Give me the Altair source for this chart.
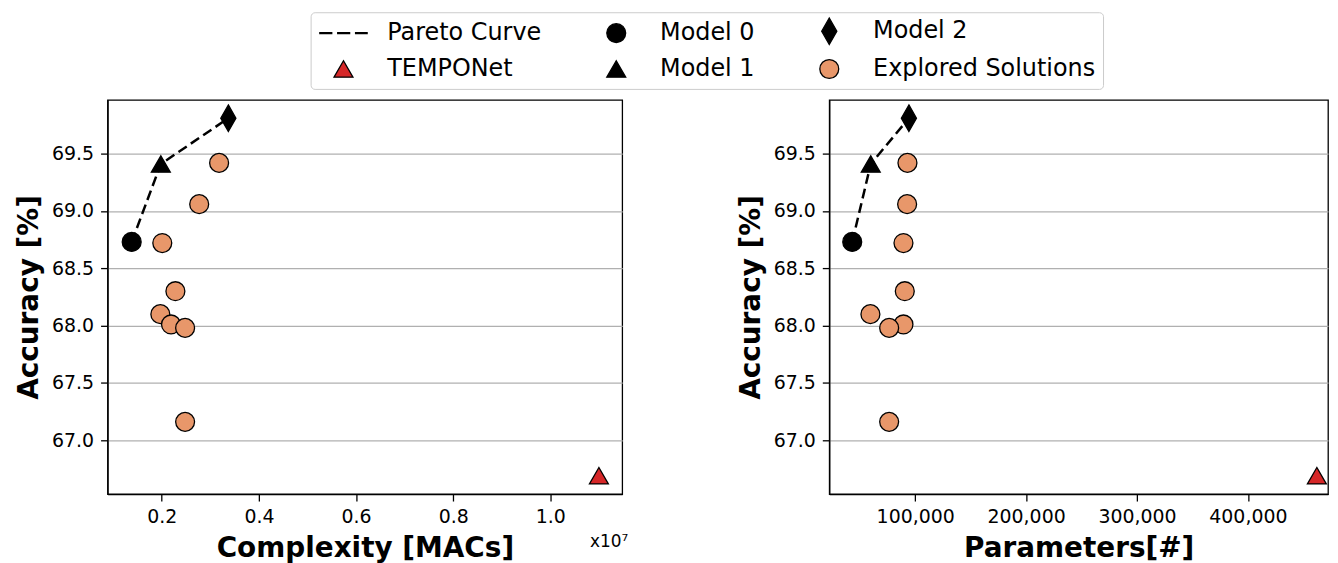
import altair as alt
import pandas as pd

# ---- data ----
series_names = ["Model 0", "Model 1", "Model 2"]
model_macs = [1.38e6, 1.98e6, 3.37e6]
model_params = [43200, 59900, 94300]
model_acc = [68.73, 69.41, 69.81]

explored_macs = [3.18e6, 2.77e6, 2.01e6, 2.28e6, 1.97e6, 2.19e6, 2.48e6, 2.48e6]
explored_params = [93000, 92700, 89400, 90600, 59600, 89400, 76500, 76500]
explored_acc = [69.42, 69.06, 68.72, 68.30, 68.10, 68.01, 67.98, 67.16]

tempo_macs = [1.10e7]
tempo_params = [462200]
tempo_acc = [66.69]

legend_order = ["Pareto Curve", "TEMPONet", "Model 0", "Model 1", "Model 2", "Explored Solutions"]

rows = []
for m, p, a in zip(explored_macs, explored_params, explored_acc):
    rows.append({"series": "Explored Solutions", "macs": m, "params": p, "acc": a})
rows.append({"series": "TEMPONet", "macs": tempo_macs[0], "params": tempo_params[0], "acc": tempo_acc[0]})
for s, m, p, a in zip(series_names, model_macs, model_params, model_acc):
    rows.append({"series": s, "macs": m, "params": p, "acc": a})
df = pd.DataFrame(rows)
pareto = pd.DataFrame({"series": series_names, "macs": model_macs, "params": model_params, "acc": model_acc})

FONT = "DejaVu Sans"
ORANGE = "#E8976A"
RED = "#d62728"
DASH_PATH = ("M-2.5,-0.05L-1.24,-0.05L-1.24,0.05L-2.5,0.05Z "
             "M-0.61,-0.05L0.65,-0.05L0.65,0.05L-0.61,0.05Z "
             "M1.28,-0.05L2.5,-0.05L2.5,0.05L1.28,0.05Z")
DIAMOND_PATH = "M0,-1.4L0.8,0L0,1.4L-0.8,0Z"

shape_scale = alt.Scale(domain=legend_order,
                        range=[DASH_PATH, "triangle-up", "circle", "triangle-up", DIAMOND_PATH, "circle"])
fill_scale = alt.Scale(domain=legend_order,
                       range=["black", RED, "black", "black", "black", ORANGE])
stroke_scale = alt.Scale(domain=legend_order, range=["black"] * len(legend_order))

legend = alt.Legend(title=None, orient="none", legendX=204, legendY=-88, columns=3,
                    labelFontSize=24, labelFont=FONT, labelColor="black",
                    symbolSize=361, symbolStrokeWidth=1.3, symbolOffset=14,
                    labelOffset=32, columnPadding=49, rowPadding=9,
                    padding=7, strokeColor="#cccccc", fillColor="white", cornerRadius=4,
                    symbolOpacity=1, labelLimit=400)

y_enc = alt.Y("acc:Q", title="Accuracy [%]",
              scale=alt.Scale(domain=[66.53, 69.97], nice=False, zero=False),
              axis=alt.Axis(values=[67.0, 67.5, 68.0, 68.5, 69.0, 69.5], format=".1f"))


def panel(xfield, xtitle, domain, width, values, label_expr):
    x_enc = alt.X(f"{xfield}:Q", title=xtitle,
                  scale=alt.Scale(domain=domain, nice=False, zero=False),
                  axis=alt.Axis(values=values, grid=False, labelExpr=label_expr))
    line = alt.Chart(pareto).mark_line(color="black", strokeWidth=2.5, strokeDash=[10, 5]).encode(
        x=x_enc, y=y_enc)
    pts = alt.Chart(df).mark_point(filled=True, size=361, strokeWidth=1.3, opacity=1).encode(
        x=x_enc, y=y_enc,
        fill=alt.Fill("series:N", scale=fill_scale, legend=legend),
        stroke=alt.Stroke("series:N", scale=stroke_scale, legend=legend),
        shape=alt.Shape("series:N", scale=shape_scale, legend=legend),
    )
    return alt.layer(line, pts).properties(width=width, height=396)


left = panel("macs", "Complexity [MACs]", [883000, 11480000], 517,
             [2e6, 4e6, 6e6, 8e6, 1e7], "format(datum.value / 1e7, '.1f')")
offset_txt = alt.Chart(pd.DataFrame({"t": ["x10⁷"]})).mark_text(
    align="right", baseline="alphabetic", fontSize=17, font=FONT, color="black").encode(
    text="t:N", x=alt.value(523), y=alt.value(449))
left = alt.layer(left, offset_txt)

right = panel("params", "Parameters[#]", [22500, 472250], 501,
              [100000, 200000, 300000, 400000], "format(datum.value, ',d')")

chart = alt.hconcat(left, right, spacing=208, bounds="flush").properties(
    padding={"left": 7, "top": 2, "right": 0, "bottom": 0}
).configure_view(stroke="black", strokeWidth=1.3).configure_axis(
    labelFont=FONT, labelFontSize=19, labelColor="black",
    titleFont=FONT, titleFontSize=28, titleFontWeight="bold", titleColor="black",
    domainColor="black", domainWidth=1.3, tickColor="black", tickWidth=1.3, tickSize=7,
    labelPadding=7, titlePadding=8, gridColor="#b0b0b0", gridWidth=1.3,
).configure_axisX(grid=False).configure_axisY(grid=True)

chart.save("out.html", embed_options={"renderer": "svg", "actions": False})
